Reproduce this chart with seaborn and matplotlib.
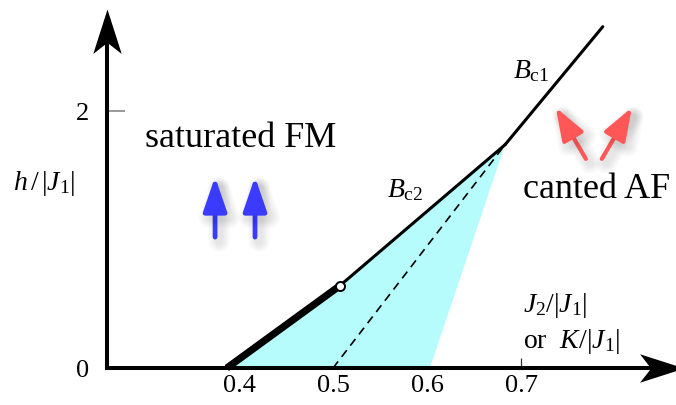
import numpy as np
import matplotlib
matplotlib.use("Agg")
import matplotlib.pyplot as plt
import matplotlib.patheffects as pe
from matplotlib.path import Path
import seaborn as sns

# phase boundaries
bc2_x = [0.387, 0.507, 0.683]
bc2_y = [0.0, 0.64, 1.74]
bc1_x = [0.683, 0.787]
bc1_y = [1.74, 2.66]
thick_x = [0.387, 0.507]          # first-order part of Bc2
thick_y = [0.0, 0.64]
circle_x = [0.507]
circle_y = [0.64]
dash_x = [0.5, 0.683]
dash_y = [0.0, 1.74]
fill_right_x = 0.603              # right edge of the cyan region at h = 0

x_ticks = [0.4, 0.5, 0.6, 0.7]
x_tick_labels = ["0.4", "0.5", "0.6", "0.7"]
y_ticks = [0, 2]
y_tick_labels = ["0", "2"]

# spin arrows (tail, tip)
blue_arrows = [((0.3745, 1.02), (0.3745, 1.49)), ((0.417, 1.02), (0.417, 1.49))]
red_arrows = [((0.769, 1.63), (0.737, 2.03)), ((0.786, 1.63), (0.818, 2.03))]

x_axis_at = 0.2596
x_axis_tip = 0.873
y_axis_tip = 2.80

sns.set_style("ticks")
plt.rcParams["font.family"] = ["Liberation Serif", "DejaVu Serif"]
plt.rcParams["mathtext.fontset"] = "custom"
plt.rcParams["mathtext.rm"] = "Liberation Serif"
plt.rcParams["mathtext.it"] = "Liberation Serif:italic"
plt.rcParams["text.color"] = "black"
plt.rcParams["xtick.labelcolor"] = "black"
plt.rcParams["ytick.labelcolor"] = "black"

fig = plt.figure(figsize=(6.76, 4.05), dpi=100)
ax = fig.add_axes([0, 0, 1, 1])
ax.set_xlim(0.1457, 0.8649)
ax.set_ylim(-0.288, 2.868)
ax.patch.set_alpha(0)

# cyan region under Bc2
poly_x = bc2_x + [fill_right_x]
poly_y = bc2_y + [0.0]
ax.fill(poly_x, poly_y, color="#b6fcfc", lw=0, zorder=1)

sns.lineplot(x=dash_x, y=dash_y, color="black", lw=1.2,
             linestyle=(0, (5, 3.5)), ax=ax, zorder=3)
sns.lineplot(x=bc2_x, y=bc2_y, color="black", lw=2.2, ax=ax, zorder=4)
sns.lineplot(x=bc1_x, y=bc1_y, color="black", lw=2.2, ax=ax, zorder=4)
sns.lineplot(x=thick_x, y=thick_y, color="black", lw=5.2, ax=ax, zorder=4,
             solid_capstyle="butt")
ax.plot(circle_x, circle_y, "o", ms=6.5, mfc="white", mec="black", mew=1.4, zorder=5)

# axes with stealth arrow heads
for side in ["top", "right"]:
    ax.spines[side].set_visible(False)
ax.spines["left"].set_position(("data", x_axis_at))
ax.spines["bottom"].set_position(("data", 0))
ax.spines["left"].set_bounds(0, y_axis_tip - 0.2)
ax.spines["bottom"].set_bounds(x_axis_at, x_axis_tip - 0.028)
for side in ["left", "bottom"]:
    ax.spines[side].set_linewidth(2.9)
    ax.spines[side].set_color("black")
    ax.spines[side].set_zorder(6)

head_up = Path([(0, 0), (-0.32, -1), (0, -0.75), (0.32, -1), (0, 0)],
               [Path.MOVETO, Path.LINETO, Path.LINETO, Path.LINETO, Path.CLOSEPOLY])
head_right = Path([(0, 0), (-1, 0.32), (-0.75, 0), (-1, -0.32), (0, 0)],
                  [Path.MOVETO, Path.LINETO, Path.LINETO, Path.LINETO, Path.CLOSEPOLY])
ax.plot([x_axis_at], [y_axis_tip], marker=head_up, ms=64, color="black",
        mew=0, clip_on=False, zorder=7)
ax.plot([x_axis_tip], [0], marker=head_right, ms=64, color="black",
        mew=0, clip_on=False, zorder=7)

ax.set_xticks(x_ticks, x_tick_labels)
ax.set_yticks(y_ticks, y_tick_labels)
ax.tick_params(axis="x", direction="in", length=7.5, width=0.9, color="#333333",
               labelsize=19, pad=5)
ax.tick_params(axis="y", direction="in", length=13, width=1.2, color="#888888",
               labelsize=19, pad=13)
ax.yaxis.get_major_ticks()[0].tick1line.set_visible(False)

# spin arrows with a soft shadow
def shadow(lw):
    effects = []
    for k in range(2, 11, 2):
        effects.append(pe.SimpleLineShadow(offset=(3, -3),
                                           shadow_color="black", alpha=0.018,
                                           linewidth=lw + k * 1.2))
    effects.append(pe.Normal())
    return effects

for tail, tip in blue_arrows:
    ax.annotate("", xy=tip, xytext=tail,
                arrowprops=dict(arrowstyle="-|>,head_length=1.05,head_width=0.36",
                                mutation_scale=20, lw=3.4, color="#3b3bff",
                                shrinkA=0, shrinkB=0, path_effects=shadow(3.4)))
for tail, tip in red_arrows:
    ax.annotate("", xy=tip, xytext=tail,
                arrowprops=dict(arrowstyle="-|>,head_length=1.0,head_width=0.36",
                                mutation_scale=20, lw=3.0, color="#ff5757",
                                shrinkA=0, shrinkB=0, path_effects=shadow(3.0)))

# labels
ax.text(0.300, 1.722, "saturated FM", fontsize=26, ha="left", va="baseline")
ax.text(0.702, 1.325, "canted AF", fontsize=26, ha="left", va="baseline")
ax.text(0.1596, 1.387, r"$h\,/\,|J_1|$", fontsize=20, ha="left", va="baseline")
ax.text(0.702, 0.436, r"$J_2/|J_1|$", fontsize=20, ha="left", va="baseline")
ax.text(0.702, 0.156, r"or  $K/|J_1|$", fontsize=20, ha="left", va="baseline")
ax.text(0.557, 1.333, r"$B_{\mathrm{c2}}$", fontsize=20, ha="left", va="baseline")
ax.text(0.691, 2.26, r"$B_{\mathrm{c1}}$", fontsize=20, ha="left", va="baseline")

fig.savefig("out.png", dpi=100)
